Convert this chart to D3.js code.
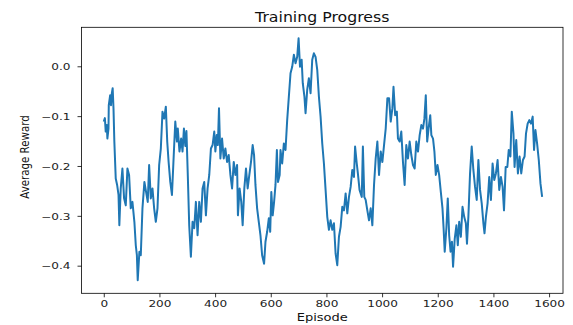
<!DOCTYPE html>
<html>
<head>
<meta charset="utf-8">
<script src="https://cdn.jsdelivr.net/npm/d3@7"></script>
<style>
  body { margin: 0; background: #fff; }
  svg { display: block; font-family: 'DejaVu Sans', sans-serif; }
  .tick line { stroke: #000; stroke-width: 0.8; }
  .tick text { fill: #222; }
</style>
</head>
<body>
<svg id="chart" width="573" height="325"></svg>
<script>
const chartTitle = 'Training Progress';
const xTitle = 'Episode';
const yTitle = 'Average Reward';

const xTicks = [0, 200, 400, 600, 800, 1000, 1200, 1400, 1600];
const yTicks = [0.0, -0.1, -0.2, -0.3, -0.4];

// roughly every 5-6 episodes
const episodes = [
  0, 4, 7, 11, 13, 17, 18, 23, 26, 29, 32, 35, 38, 43, 48, 53, 56, 61, 67, 73,
  79, 85, 91, 97, 103, 110, 115, 119, 122, 128, 133, 139, 146, 152, 158, 163, 169, 175, 181, 187,
  193, 199, 205, 211, 217, 223, 228, 233, 239, 245, 252, 257, 263, 266, 272, 278, 283, 288, 293, 297,
  302, 307, 313, 319, 325, 331, 337, 343, 349, 355, 361, 367, 373, 379, 385, 391, 397, 401, 406, 410,
  414, 419, 425, 431, 437, 443, 449, 455, 461, 467, 473, 479, 482, 488, 494, 499, 505, 511, 517, 523,
  529, 535, 540, 545, 551, 557, 563, 569, 576, 581, 587, 593, 598, 602, 607, 612, 617, 622, 626, 632,
  635, 641, 647, 653, 659, 665, 671, 677, 683, 689, 695, 700, 705, 711, 715, 721, 725, 731, 737, 743,
  749, 755, 761, 767, 773, 779, 785, 791, 797, 803, 809, 815, 821, 827, 833, 839, 845, 851, 857, 863,
  869, 875, 881, 887, 893, 899, 903, 909, 913, 919, 927, 931, 936, 941, 947, 953, 959, 965, 971, 977,
  983, 989, 995, 1001, 1007, 1013, 1019, 1025, 1031, 1037, 1041, 1047, 1053, 1057, 1063, 1069, 1075, 1081, 1087, 1093,
  1099, 1105, 1111, 1117, 1123, 1129, 1135, 1141, 1147, 1152, 1157, 1162, 1167, 1173, 1177, 1183, 1188, 1193, 1199, 1205,
  1211, 1217, 1221, 1225, 1231, 1236, 1241, 1246, 1251, 1255, 1261, 1267, 1272, 1277, 1283, 1289, 1295, 1301, 1305, 1310,
  1316, 1322, 1328, 1334, 1340, 1346, 1352, 1358, 1364, 1368, 1373, 1379, 1385, 1391, 1397, 1403, 1409, 1415, 1421, 1427,
  1433, 1438, 1444, 1450, 1455, 1461, 1466, 1472, 1476, 1482, 1488, 1494, 1500, 1506, 1512, 1517, 1523, 1529, 1535, 1541,
  1546, 1551, 1557, 1563, 1569, 1575
];

const rewards = [
  -0.111, -0.104, -0.131, -0.118, -0.145, -0.125, -0.078, -0.058, -0.078, -0.054, -0.044, -0.085, -0.151, -0.225, -0.238, -0.258, -0.319, -0.245, -0.205, -0.265,
  -0.279, -0.205, -0.218, -0.285, -0.272, -0.312, -0.359, -0.379, -0.429, -0.372, -0.379, -0.285, -0.232, -0.252, -0.272, -0.198, -0.265, -0.245, -0.285, -0.312,
  -0.285, -0.198, -0.165, -0.091, -0.105, -0.081, -0.151, -0.192, -0.232, -0.258, -0.171, -0.111, -0.151, -0.125, -0.171, -0.145, -0.171, -0.125, -0.160, -0.130,
  -0.220, -0.319, -0.382, -0.312, -0.325, -0.272, -0.339, -0.272, -0.312, -0.245, -0.232, -0.299, -0.245, -0.218, -0.165, -0.158, -0.131, -0.171, -0.138, -0.158,
  -0.084, -0.185, -0.145, -0.185, -0.165, -0.192, -0.178, -0.218, -0.245, -0.192, -0.218, -0.198, -0.299, -0.245, -0.272, -0.319, -0.245, -0.205, -0.245, -0.218,
  -0.192, -0.158, -0.178, -0.238, -0.285, -0.312, -0.339, -0.379, -0.396, -0.352, -0.332, -0.305, -0.332, -0.252, -0.299, -0.272, -0.238, -0.168, -0.232, -0.218,
  -0.168, -0.195, -0.155, -0.168, -0.108, -0.061, -0.014, -0.001, 0.023, 0.006, 0.019, 0.056, -0.001, 0.013, -0.034, -0.061, -0.094, -0.047, -0.024, -0.054,
  0.013, 0.026, 0.019, -0.007, -0.061, -0.101, -0.155, -0.195, -0.248, -0.302, -0.328, -0.309, -0.328, -0.315, -0.376, -0.399, -0.342, -0.322, -0.282, -0.289,
  -0.255, -0.295, -0.262, -0.242, -0.208, -0.222, -0.161, -0.195, -0.215, -0.248, -0.262, -0.161, -0.262, -0.268, -0.289, -0.309, -0.285, -0.319, -0.238, -0.185,
  -0.151, -0.218, -0.171, -0.192, -0.158, -0.125, -0.064, -0.064, -0.111, -0.084, -0.041, -0.098, -0.091, -0.145, -0.151, -0.131, -0.192, -0.238, -0.158, -0.185,
  -0.151, -0.178, -0.198, -0.205, -0.151, -0.171, -0.138, -0.118, -0.125, -0.105, -0.058, -0.151, -0.125, -0.098, -0.138, -0.145, -0.171, -0.218, -0.198, -0.218,
  -0.252, -0.285, -0.325, -0.372, -0.325, -0.265, -0.339, -0.372, -0.352, -0.402, -0.346, -0.319, -0.359, -0.312, -0.342, -0.282, -0.302, -0.315, -0.356, -0.302,
  -0.215, -0.161, -0.208, -0.242, -0.268, -0.188, -0.248, -0.275, -0.315, -0.335, -0.302, -0.275, -0.222, -0.268, -0.195, -0.228, -0.215, -0.188, -0.248, -0.222,
  -0.242, -0.289, -0.202, -0.202, -0.168, -0.181, -0.091, -0.135, -0.202, -0.148, -0.215, -0.181, -0.215, -0.188, -0.181, -0.135, -0.115, -0.108, -0.115, -0.101,
  -0.168, -0.128, -0.155, -0.188, -0.235, -0.262
];

const svg = d3.select('#chart');

// plot box (the original figure was squashed vertically)
let x = d3.scaleLinear().domain([-80, 1650]).range([81.5, 563]);
let y = d3.scaleLinear().domain([-0.4554, 0.0782]).range([293.3, 27.3]);

let [plotLeft, plotRight] = x.range();
let [plotBottom, plotTop] = y.range();

svg.append('rect')
  .attr('width', 573).attr('height', 325)
  .attr('fill', '#fff');

svg.append('defs').append('clipPath')
  .attr('id', 'plot-clip')
  .append('rect')
  .attr('x', plotLeft).attr('y', plotTop)
  .attr('width', plotRight - plotLeft).attr('height', plotBottom - plotTop);

let points = episodes.map((e, i) => ({ep: e, r: rewards[i]}));

let drawLine = d3.line()
  .x((d) => x(d.ep))
  .y((d) => y(d.r));

svg.append('path')
  .datum(points)
  .attr('clip-path', 'url(#plot-clip)')
  .attr('d', drawLine)
  .attr('fill', 'none')
  .attr('stroke', '#1f77b4')
  .attr('stroke-width', 2)
  .attr('stroke-linejoin', 'round');

// text is stretched sideways like the source image
let fmtY = (d) => d3.format('.1f')(d).replace('-', '\u2212');

let gx = svg.append('g')
  .attr('transform', 'translate(0,' + plotBottom + ')')
  .call(d3.axisBottom(x).tickValues(xTicks).tickSize(4).tickFormat(d3.format('d')));
gx.select('.domain').remove();
gx.selectAll('.tick text')
  .attr('y', null).attr('dy', null)
  .attr('transform', 'translate(0,14) scale(1.36,1)')
  .attr('text-anchor', 'middle')
  .style('font-size', '8.9px')
  .style('font-family', "'DejaVu Sans', sans-serif");

let gy = svg.append('g')
  .attr('transform', 'translate(' + plotLeft + ',0)')
  .call(d3.axisLeft(y).tickValues(yTicks).tickSize(4).tickFormat(fmtY));
gy.select('.domain').remove();
gy.selectAll('.tick text')
  .attr('x', null).attr('dy', null)
  .attr('transform', 'translate(-11,3.2) scale(1.36,1)')
  .attr('text-anchor', 'end')
  .style('font-size', '8.9px')
  .style('font-family', "'DejaVu Sans', sans-serif");

// spines on top of the line
svg.append('rect')
  .attr('x', plotLeft).attr('y', plotTop)
  .attr('width', plotRight - plotLeft).attr('height', plotBottom - plotTop)
  .attr('fill', 'none')
  .attr('stroke', '#000')
  .attr('stroke-width', 0.8);

svg.append('text')
  .attr('transform', 'translate(' + ((plotLeft + plotRight) / 2) + ',21.7) scale(1.15,1)')
  .attr('text-anchor', 'middle')
  .style('font-size', '13.7px')
  .attr('fill', '#111')
  .text(chartTitle);

svg.append('text')
  .attr('transform', 'translate(' + ((plotLeft + plotRight) / 2) + ',321) scale(1.24,1)')
  .attr('text-anchor', 'middle')
  .style('font-size', '10.5px')
  .attr('fill', '#111')
  .text(xTitle);

svg.append('text')
  .attr('transform', 'translate(28.5,157) rotate(-90) scale(0.9,1)')
  .attr('text-anchor', 'middle')
  .style('font-size', '11.4px')
  .attr('fill', '#111')
  .text(yTitle);
</script>
</body>
</html>
